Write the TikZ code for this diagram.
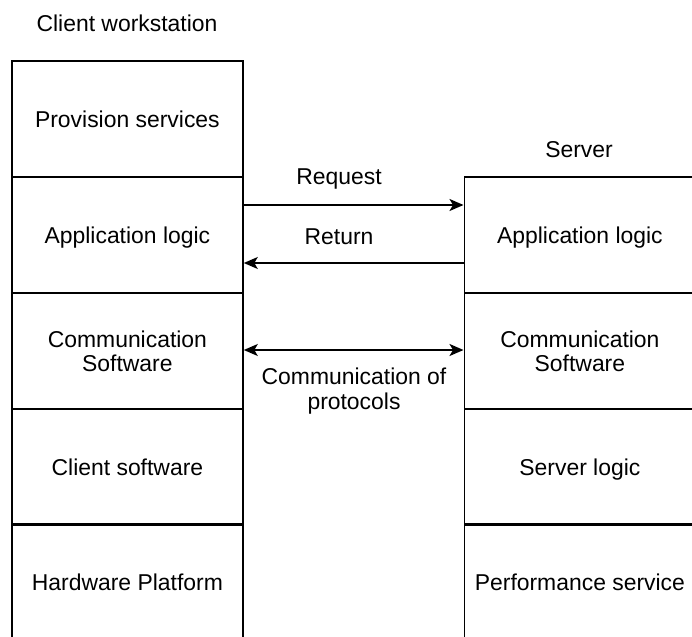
\documentclass[tikz,border=0pt]{standalone}
\usepackage{fontspec}
\setmainfont{Liberation Sans}
\usetikzlibrary{arrows.meta}
\begin{document}
\begin{tikzpicture}[x=1bp,y=-1bp,
  txt/.style={font=\fontsize{23}{24.5}\selectfont},
  layer/.style={txt,draw=black,line width=1.8bp,minimum width=231bp,minimum height=116bp,inner sep=0pt,anchor=north west,align=center,text depth=0pt},
  lbl/.style={txt,inner sep=0pt,align=center},
  tip/.style={Stealth[length=14bp,width=12bp,inset=3.5bp]},
  conn/.style={line width=1.8bp,-{Stealth[length=14bp,width=12bp,inset=3.5bp]}},
  biconn/.style={line width=1.8bp,{Stealth[length=14bp,width=12bp,inset=3.5bp]}-{Stealth[length=14bp,width=12bp,inset=3.5bp]}}]
\useasboundingbox (0,0) rectangle (692,637);
\fill[white] (0,0) rectangle (692,637);
\begin{scope}
\clip (0,0) rectangle (692,637);
% client column
\node[layer] (lprov) at (11,60) {Provision services};
\node[layer] (lapp) at (11,176) {Application logic};
\node[layer] (lcom) at (11,292) {Communication\\Software};
\node[layer] (lcli) at (11,408) {Client software};
\node[layer] (lhw) at (11,523) {Hardware Platform};
% server column
\node[layer] (rapp) at (463.5,176) {Application logic};
\node[layer] (rcom) at (463.5,292) {Communication\\Software};
\node[layer] (rsrv) at (463.5,408) {Server logic};
\node[layer] (rperf) at (463.5,523) {Performance service};
\end{scope}
% titles
\node[lbl] (tclient) at (127,23) {Client workstation};
\node[lbl] (tserver) at (579,150) {Server};
% connectors
\coordinate (req) at (350,205);
\coordinate (ret) at (350,263);
\coordinate (prot) at (350,350);
\draw[conn] (lapp.east |- req) -- (rapp.west |- req);
\draw[conn] (rapp.west |- ret) -- (lapp.east |- ret);
\draw[biconn] (lcom.east |- prot) -- (rcom.west |- prot);
% connector labels
\node[lbl] (lreq) at (339,179) {Request};
\node[lbl] (lret) at (339,237) {Return};
\node[lbl] (lprot) at (354,391) {Communication of\\protocols};
\end{tikzpicture}
\end{document}
